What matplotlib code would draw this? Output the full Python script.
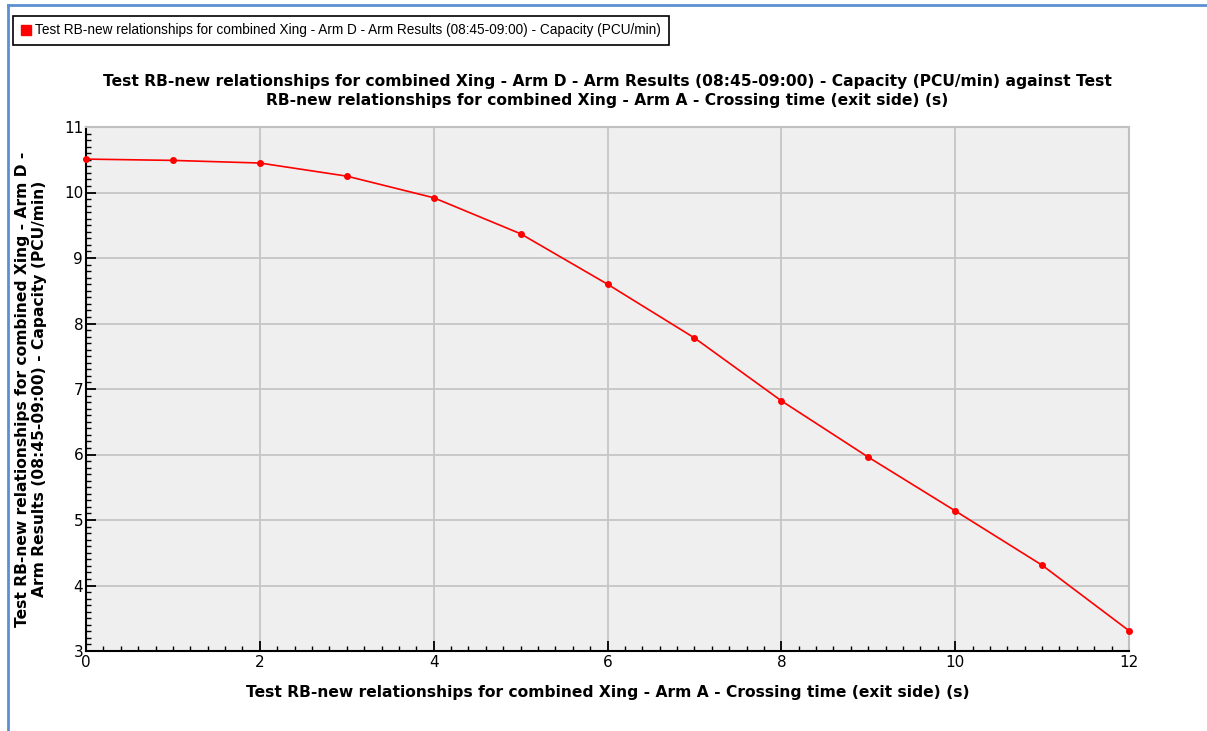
import numpy as np
import matplotlib
matplotlib.use('Agg')
import matplotlib.pyplot as plt
from matplotlib.lines import Line2D
from matplotlib.ticker import MultipleLocator

crossing_time = [0, 1, 2, 3, 4, 5, 6, 7, 8, 9, 10, 11, 12]
capacity = [10.51, 10.49, 10.45, 10.25, 9.92, 9.37, 8.60, 7.78, 6.82, 5.96, 5.14, 4.31, 3.31]

series_name = 'Test RB-new relationships for combined Xing - Arm D - Arm Results (08:45-09:00) - Capacity (PCU/min)'
title = ('Test RB-new relationships for combined Xing - Arm D - Arm Results (08:45-09:00) - Capacity (PCU/min) against Test\n'
         'RB-new relationships for combined Xing - Arm A - Crossing time (exit side) (s)')
xlabel = 'Test RB-new relationships for combined Xing - Arm A - Crossing time (exit side) (s)'
ylabel = 'Test RB-new relationships for combined Xing - Arm D -\nArm Results (08:45-09:00) - Capacity (PCU/min)'

plt.rcParams['font.family'] = ['DejaVu Sans']

fig = plt.figure(figsize=(12.07, 7.31), dpi=100)
ax = fig.add_axes([86 / 1207, 80 / 731, (1129 - 86) / 1207, (651 - 127) / 731])
ax.set_facecolor('#efefef')

ax.plot(crossing_time, capacity, color='red', lw=1.2, marker='o', ms=4, clip_on=False, zorder=3)

ax.set_xlim(0, 12)
ax.set_ylim(3, 11)
ax.xaxis.set_major_locator(MultipleLocator(2))
ax.xaxis.set_minor_locator(MultipleLocator(0.2))
ax.yaxis.set_major_locator(MultipleLocator(1))
ax.yaxis.set_minor_locator(MultipleLocator(0.1))
ax.grid(True, which='major', color='#c6c6c6', lw=1.3)
ax.set_axisbelow(True)

ax.tick_params(which='major', direction='in', length=7, width=1.3, labelsize=11, pad=2)
ax.tick_params(which='minor', direction='in', length=3.5, width=1)
ax.tick_params(axis='x', pad=3)
for s in ['left', 'bottom']:
    ax.spines[s].set_color('black')
    ax.spines[s].set_linewidth(1.5)
for s in ['top', 'right']:
    ax.spines[s].set_color('#c0c0c0')
    ax.spines[s].set_linewidth(1.5)

ax.set_title(title, fontsize=11.2, fontweight='bold', pad=16, linespacing=1.3)
ax.set_xlabel(xlabel, fontsize=11.2, fontweight='bold', labelpad=11)
ax.set_ylabel(ylabel, fontsize=11.2, fontweight='bold', labelpad=12, linespacing=1.2)

handle = Line2D([], [], color='red', marker='s', ls='none', ms=7)
leg = fig.legend([handle], [series_name], loc='upper left', bbox_to_anchor=(13 / 1207, 1 - 16 / 731),
                 fancybox=False, edgecolor='black', framealpha=1,
                 prop={'family': 'Liberation Sans', 'size': 9.8},
                 borderpad=0.55, handletextpad=0.3, handlelength=0.8, borderaxespad=0)
leg.get_frame().set_linewidth(1.2)

# blue frame around the panel
fig.add_artist(Line2D([8 / 1207, 8 / 1207], [0, 1 - 5 / 731], color='#5b8fd0', lw=2, transform=fig.transFigure))
fig.add_artist(Line2D([8 / 1207, 1], [1 - 5 / 731, 1 - 5 / 731], color='#5b8fd0', lw=2, transform=fig.transFigure))

fig.savefig('out.png', dpi=100)
